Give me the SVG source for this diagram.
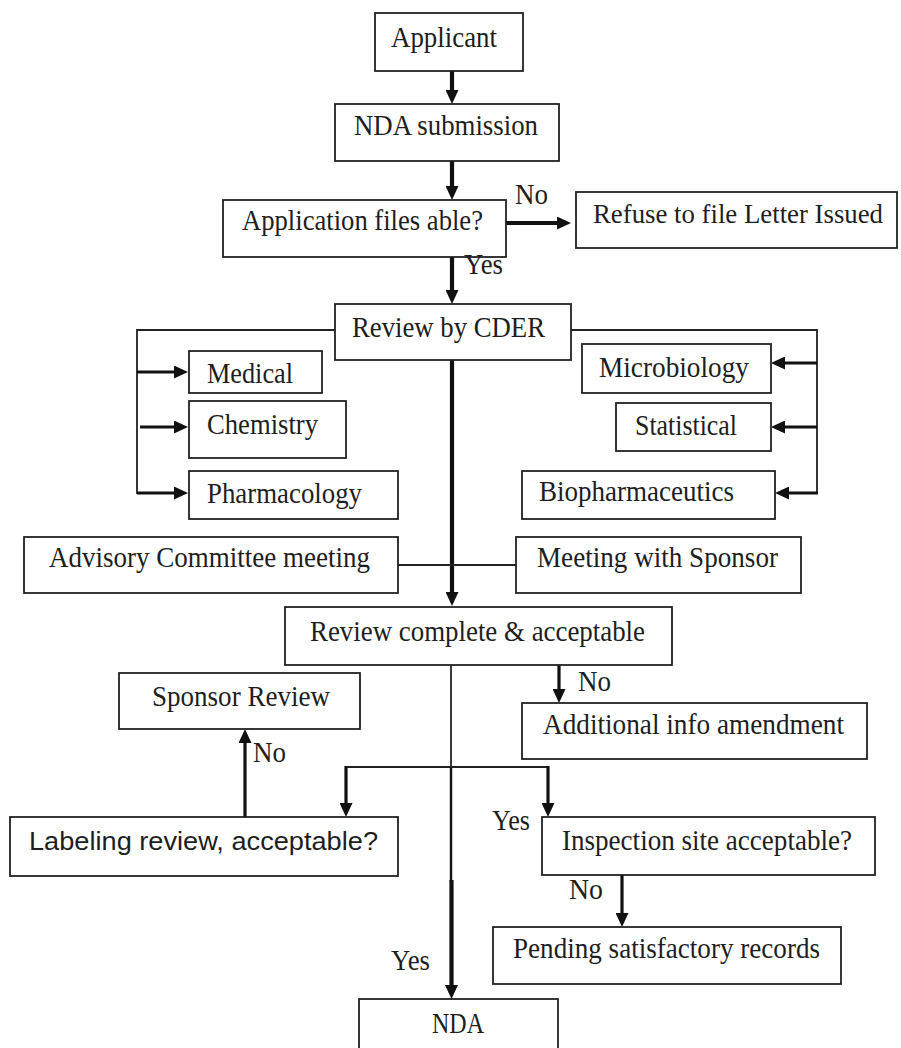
<svg xmlns="http://www.w3.org/2000/svg" width="901" height="1048" viewBox="0 0 901 1048">
<defs>
<style>
.box{fill:#fff;stroke:#222;stroke-width:1.8}
.t{font-family:"Liberation Serif","Times New Roman",serif;font-size:29px;fill:#1e1e1e}
.s{font-family:"Liberation Sans",Arial,sans-serif;font-size:26px;fill:#1e1e1e}
.thin{fill:none;stroke:#222;stroke-width:1.8}
.thick{fill:none;stroke:#111;stroke-width:4.2;marker-end:url(#ah)}
.mid{fill:none;stroke:#111;stroke-width:3.2;marker-end:url(#ah)}
</style>
<marker id="ah" viewBox="0 0 14 13" markerUnits="userSpaceOnUse" markerWidth="14" markerHeight="13" refX="8" refY="6.5" orient="auto">
<path d="M0,0 L14,6.5 L0,13 z" fill="#111"/>
</marker>
</defs>
<rect width="901" height="1048" fill="#fff"/>

<g id="connectors">
<line class="thick" x1="452" y1="71" x2="452" y2="98"/>
<line class="thick" x1="452" y1="161" x2="452" y2="194"/>
<line class="thick" x1="506" y1="223" x2="565" y2="223"/>
<line class="thick" x1="452" y1="257" x2="452" y2="298"/>
<polyline class="thin" points="335,330 137,330 137,494"/>
<line class="mid" x1="137" y1="372" x2="182" y2="372"/>
<line class="mid" x1="140" y1="427" x2="182" y2="427"/>
<line class="mid" x1="137" y1="493" x2="182" y2="493"/>
<polyline class="thin" points="571,330 817,330 817,494"/>
<line class="mid" x1="817" y1="363" x2="777" y2="363"/>
<line class="mid" x1="817" y1="427" x2="777" y2="427"/>
<line class="mid" x1="818" y1="493" x2="781" y2="493"/>
<line class="thick" x1="452" y1="360" x2="452" y2="600"/>
<line class="thin" x1="398" y1="565" x2="516" y2="565"/>
<line class="mid" x1="559" y1="665" x2="559" y2="697"/>
<line class="thin" x1="451" y1="665" x2="451" y2="767"/>
<line fill="none" stroke="#111" stroke-width="2.4" x1="451" y1="767" x2="451" y2="882"/>
<line class="thick" x1="451.5" y1="880" x2="451.5" y2="993"/>
<line class="thin" x1="345" y1="767" x2="549" y2="767"/>
<line class="mid" x1="346" y1="766" x2="346" y2="811"/>
<line class="mid" x1="548" y1="766" x2="548" y2="811"/>
<line class="mid" x1="245" y1="817" x2="245" y2="735"/>
<line class="mid" x1="622" y1="875" x2="622" y2="921"/>
</g>

<g id="applicant"><rect class="box" x="375" y="13" width="148" height="58"/><text class="t" x="391" y="47" textLength="106" lengthAdjust="spacingAndGlyphs">Applicant</text></g>
<g id="nda-submission"><rect class="box" x="335" y="104" width="224" height="57"/><text class="t" x="354" y="135" textLength="184" lengthAdjust="spacingAndGlyphs">NDA submission</text></g>
<g id="application"><rect class="box" x="223" y="200" width="283" height="57"/><text class="t" x="242" y="230" textLength="241" lengthAdjust="spacingAndGlyphs">Application files able?</text></g>
<g id="refuse"><rect class="box" x="576" y="192" width="321" height="56"/><text class="t" x="593" y="223" font-size="27" style="font-size:27px" textLength="290" lengthAdjust="spacingAndGlyphs">Refuse to file Letter Issued</text></g>
<g id="review-cder"><rect class="box" x="335" y="304" width="236" height="56"/><text class="t" x="352" y="337" textLength="193" lengthAdjust="spacingAndGlyphs">Review by CDER</text></g>
<g id="medical"><rect class="box" x="189" y="351" width="133" height="42"/><text class="t" x="207" y="383" textLength="86" lengthAdjust="spacingAndGlyphs">Medical</text></g>
<g id="chemistry"><rect class="box" x="189" y="401" width="157" height="57"/><text class="t" x="207" y="434" textLength="111" lengthAdjust="spacingAndGlyphs">Chemistry</text></g>
<g id="pharmacology"><rect class="box" x="189" y="471" width="209" height="48"/><text class="t" x="207" y="503" textLength="155" lengthAdjust="spacingAndGlyphs">Pharmacology</text></g>
<g id="microbiology"><rect class="box" x="582" y="344" width="189" height="49"/><text class="t" x="599" y="377" textLength="150" lengthAdjust="spacingAndGlyphs">Microbiology</text></g>
<g id="statistical"><rect class="box" x="616" y="403" width="155" height="48"/><text class="t" x="635" y="435" textLength="102" lengthAdjust="spacingAndGlyphs">Statistical</text></g>
<g id="biopharmaceutics"><rect class="box" x="522" y="471" width="253" height="48"/><text class="t" x="539" y="501" textLength="195" lengthAdjust="spacingAndGlyphs">Biopharmaceutics</text></g>
<g id="advisory"><rect class="box" x="24" y="537" width="374" height="56"/><text class="t" x="49" y="567" textLength="321" lengthAdjust="spacingAndGlyphs">Advisory Committee meeting</text></g>
<g id="meeting-sponsor"><rect class="box" x="516" y="537" width="285" height="56"/><text class="t" x="537" y="567" textLength="241" lengthAdjust="spacingAndGlyphs">Meeting with Sponsor</text></g>
<g id="review-complete"><rect class="box" x="285" y="607" width="387" height="58"/><text class="t" x="310" y="641" textLength="335" lengthAdjust="spacingAndGlyphs">Review complete &amp; acceptable</text></g>
<g id="sponsor-review"><rect class="box" x="119" y="673" width="241" height="56"/><text class="t" x="152" y="706" textLength="178" lengthAdjust="spacingAndGlyphs">Sponsor Review</text></g>
<g id="additional-info"><rect class="box" x="522" y="703" width="345" height="56"/><text class="t" x="543" y="734" textLength="301" lengthAdjust="spacingAndGlyphs">Additional info amendment</text></g>
<g id="labeling"><rect class="box" x="10" y="817" width="388" height="59"/><text class="s" x="29" y="850" textLength="349" lengthAdjust="spacingAndGlyphs">Labeling review, acceptable?</text></g>
<g id="inspection"><rect class="box" x="542" y="817" width="333" height="58"/><text class="t" x="562" y="850" textLength="290" lengthAdjust="spacingAndGlyphs">Inspection site acceptable?</text></g>
<g id="pending"><rect class="box" x="493" y="927" width="348" height="57"/><text class="t" x="513" y="958" textLength="307" lengthAdjust="spacingAndGlyphs">Pending satisfactory records</text></g>
<g id="nda"><rect class="box" x="359" y="999" width="199" height="60"/><text class="t" x="432" y="1033" textLength="52" lengthAdjust="spacingAndGlyphs">NDA</text></g>

<g id="labels">
<text class="t" x="515" y="204" textLength="33" lengthAdjust="spacingAndGlyphs">No</text>
<text class="t" x="464" y="274" textLength="39" lengthAdjust="spacingAndGlyphs">Yes</text>
<text class="t" x="253" y="762" textLength="33" lengthAdjust="spacingAndGlyphs">No</text>
<text class="t" x="578" y="691" textLength="33" lengthAdjust="spacingAndGlyphs">No</text>
<text class="t" x="492" y="830" textLength="38" lengthAdjust="spacingAndGlyphs">Yes</text>
<text class="t" x="569" y="899" textLength="34" lengthAdjust="spacingAndGlyphs">No</text>
<text class="t" x="391" y="970" textLength="39" lengthAdjust="spacingAndGlyphs">Yes</text>
</g>
</svg>
